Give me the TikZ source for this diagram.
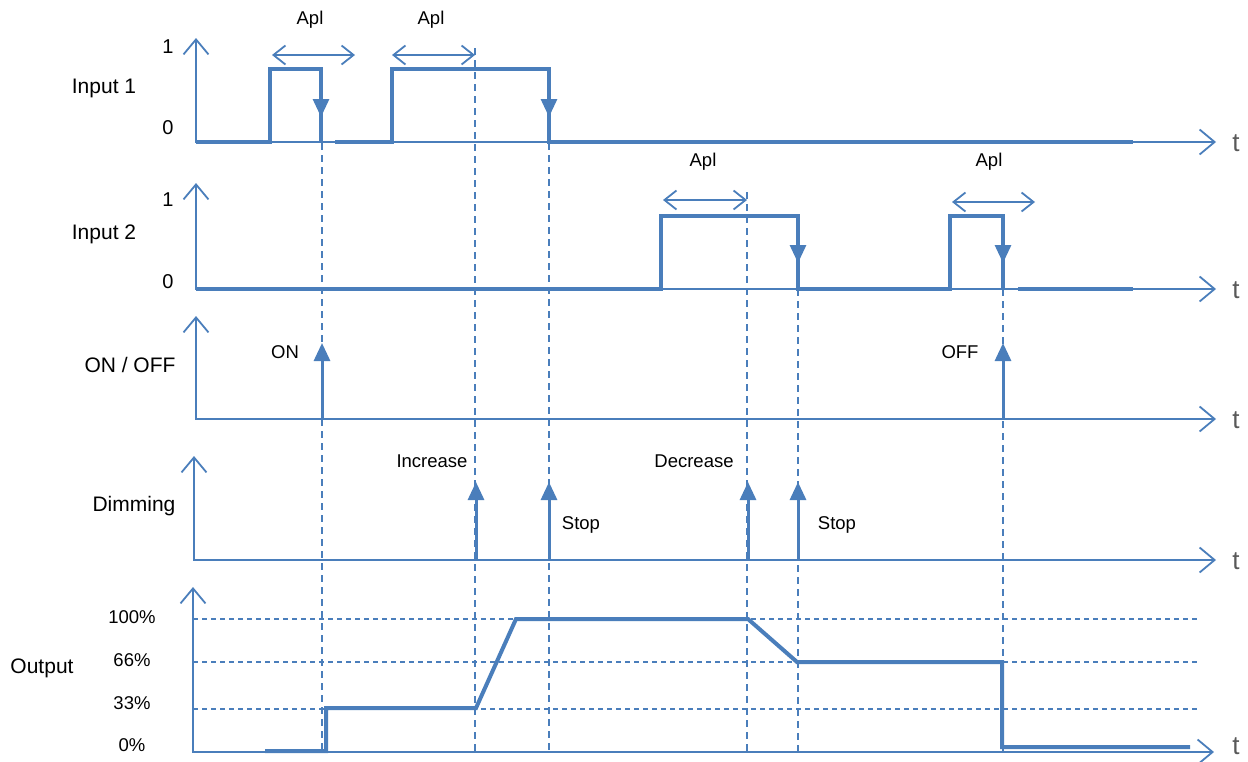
\documentclass[tikz,border=0pt]{standalone}
\usepackage{fontspec}
\setmainfont{Liberation Sans}
\usetikzlibrary{arrows.meta}
\definecolor{sig}{RGB}{74,126,187}
\definecolor{tgrey}{RGB}{89,89,89}
\tikzset{
  axisline/.style={draw=sig, line width=1.8pt, line join=miter,
    {Straight Barb[length=15pt,width=25pt]}-{Straight Barb[length=15pt,width=25pt]}},
  sigline/.style={draw=sig, line width=4pt, line join=miter},
  droparrow/.style={draw=sig, line width=3pt, -{Triangle[length=18pt,width=16pt]}},
  eventarrow/.style={draw=sig, line width=3pt, -{Triangle[length=18pt,width=16pt]}},
  aplarrow/.style={draw=sig, line width=1.8pt,
    {Straight Barb[length=12pt,width=19pt]}-{Straight Barb[length=12pt,width=19pt]}},
  vguide/.style={draw=sig, line width=1.5pt, dash pattern=on 7pt off 5pt},
  hguide/.style={draw=sig, line width=1.1pt, dash pattern=on 5pt off 4pt},
  biglbl/.style={font=\fontsize{21}{25}\selectfont, inner sep=0pt},
  txt/.style={font=\fontsize{18.5}{22}\selectfont, inner sep=0pt},
  lvl/.style={font=\fontsize{20}{24}\selectfont, inner sep=0pt},
  tlbl/.style={font=\fontsize{26}{30}\selectfont, text=tgrey, inner sep=0pt}
}
\begin{document}
\begin{tikzpicture}[x=1pt,y=-1pt]
\useasboundingbox (0,0) rectangle (1248,761);

% vertical dashed guides
\coordinate (g1a) at (322,143); \coordinate (g1b) at (322,752);
\coordinate (g2a) at (475,48);  \coordinate (g2b) at (475,752);
\coordinate (g3a) at (549,143); \coordinate (g3b) at (549,752);
\coordinate (g4a) at (747,192); \coordinate (g4b) at (747,752);
\coordinate (g5a) at (798,289); \coordinate (g5b) at (798,752);
\coordinate (g6a) at (1003,289); \coordinate (g6b) at (1003,752);
\foreach \i in {1,...,6} {\draw[vguide] (g\i a) -- (g\i b);}

% output horizontal guides
\draw[hguide] (193,619) -- (1200,619);
\draw[hguide] (193,662) -- (1200,662);
\draw[hguide] (193,709) -- (1200,709);

% axes
\draw[axisline] (196,38) -- (196,142) -- (1216,142);
\draw[axisline] (196,183) -- (196,289) -- (1216,289);
\draw[axisline] (196,316) -- (196,419) -- (1216,419);
\draw[axisline] (194,456) -- (194,560) -- (1216,560);
\draw[axisline] (193,587) -- (193,752) -- (1214,752);

% Input 1 signal
\draw[sigline] (196,142) -- (270,142) -- (270,69) -- (321,69) -- (321,142);
\draw[sigline] (335,142) -- (392,142) -- (392,69) -- (549,69) -- (549,142) -- (1133,142);
\draw[droparrow] (321,80) -- (321,117);
\draw[droparrow] (549,80) -- (549,117);
\draw[aplarrow] (272,55) -- (355,55);
\draw[aplarrow] (392,55) -- (475,55);

% Input 2 signal
\draw[sigline] (196,289) -- (661,289) -- (661,216) -- (798,216) -- (798,289) -- (950,289) -- (950,216) -- (1003,216) -- (1003,289);
\draw[sigline] (1018,289) -- (1133,289);
\draw[droparrow] (798,225) -- (798,263);
\draw[droparrow] (1003,225) -- (1003,263);
\draw[aplarrow] (663,200) -- (747,200);
\draw[aplarrow] (952,202) -- (1035,202);

% ON / OFF events
\draw[eventarrow] (322,419) -- (322,343);
\draw[eventarrow] (1003,419) -- (1003,343);

% Dimming events
\draw[eventarrow] (476,560) -- (476,482);
\draw[eventarrow] (549,560) -- (549,482);
\draw[eventarrow] (748,560) -- (748,482);
\draw[eventarrow] (798,560) -- (798,482);

% Output signal
\draw[sigline] (265,751) -- (326,751) -- (326,708) -- (476,708) -- (516,619) -- (748,619) -- (797,662) -- (1002,662) -- (1002,747) -- (1190,747);

% labels
\node[biglbl] (lin1) at (104,88) {Input 1};
\node[biglbl] (lin2) at (104,234) {Input 2};
\node[biglbl] (lonoff) at (130,365) {ON / OFF};
\node[biglbl] (ldim) at (134,506) {Dimming};
\node[biglbl] (lout) at (42,668) {Output};

\node[lvl] (a1) at (168,47) {1};
\node[lvl] (a0) at (168,128) {0};
\node[lvl] (b1) at (168,200) {1};
\node[lvl] (b0) at (168,282) {0};
\node[txt] (p100) at (132,617) {100\%};
\node[txt] (p66) at (132,660) {66\%};
\node[txt] (p33) at (132,703) {33\%};
\node[txt] (p0) at (132,745) {0\%};

\node[txt] (apl1) at (310,20) {Apl};
\node[txt] (apl2) at (431,20) {Apl};
\node[txt] (apl3) at (703,162) {Apl};
\node[txt] (apl4) at (989,162) {Apl};

\node[txt] (on) at (285,352) {ON};
\node[txt] (off) at (960,352) {OFF};
\node[txt] (inc) at (432,461) {Increase};
\node[txt] (dec) at (694,461) {Decrease};
\node[txt] (stop1) at (581,525) {Stop};
\node[txt] (stop2) at (837,525) {Stop};

\node[tlbl] (t1) at (1236,143) {t};
\node[tlbl] (t2) at (1236,290) {t};
\node[tlbl] (t3) at (1236,420) {t};
\node[tlbl] (t4) at (1236,561) {t};
\node[tlbl] (t5) at (1236,746) {t};
\end{tikzpicture}
\end{document}
